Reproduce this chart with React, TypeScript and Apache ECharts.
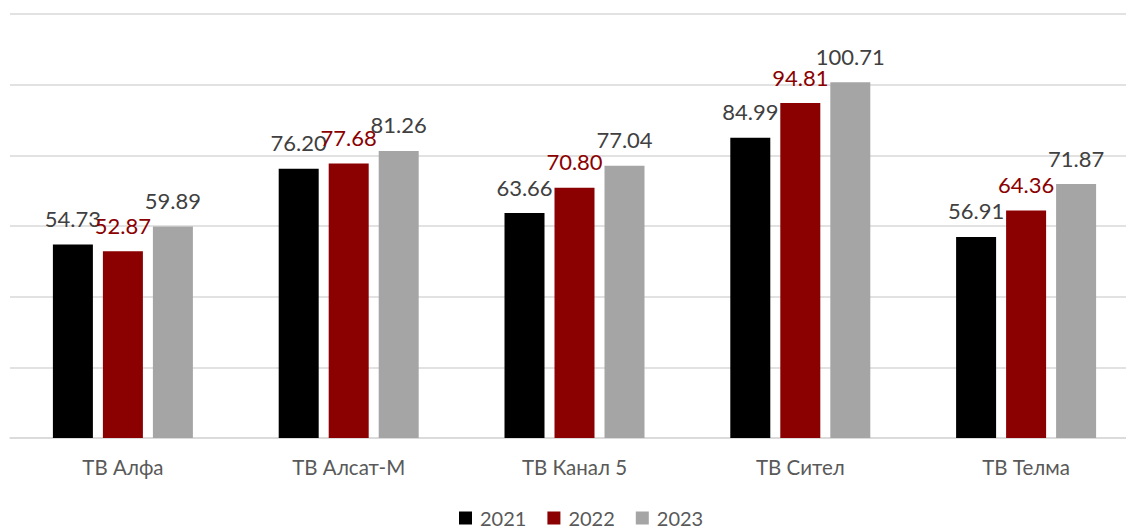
import React, { useEffect, useRef } from "react";
import * as echarts from "echarts";

const categories = ["ТВ Алфа", "ТВ Алсат-М", "ТВ Канал 5", "ТВ Сител", "ТВ Телма"];
const values2021 = [54.73, 76.2, 63.66, 84.99, 56.91];
const values2022 = [52.87, 77.68, 70.8, 94.81, 64.36];
const values2023 = [59.89, 81.26, 77.04, 100.71, 71.87];
const seriesNames = ["2021", "2022", "2023"];

const FONT = "Lato, 'Liberation Sans', sans-serif";

export default function App() {
  const ref = useRef<HTMLDivElement>(null);
  useEffect(() => {
    document.body.style.margin = "0";
    const chart = echarts.init(ref.current!, null, { renderer: "svg" });
    const mk = (name: string, data: number[], color: string, labelColor: string) => ({
      name,
      type: "bar",
      data,
      barWidth: 40,
      barGap: "25%",
      itemStyle: { color },
      label: {
        show: true,
        position: "top",
        distance: 15,
        color: labelColor,
        fontSize: 22,
        fontFamily: FONT,
        formatter: (p: any) => Number(p.value).toFixed(2),
      },
    });
    chart.setOption({
      animation: false,
      textStyle: { fontFamily: FONT },
      grid: {
        left: 10,
        width: 1129,
        top: 14,
        bottom: 93,
        containLabel: false,
        outerBoundsMode: "none",
      },
      legend: {
        bottom: 3,
        left: 459,
        padding: 0,
        itemWidth: 13,
        itemHeight: 13,
        itemGap: 21,
        icon: "rect",
        textStyle: { fontSize: 20, color: "#595959", fontFamily: FONT, padding: [0, 0, 0, 3] },
        data: seriesNames,
      },
      xAxis: {
        type: "category",
        data: categories,
        axisTick: { show: false },
        axisLine: { lineStyle: { color: "#D9D9D9", width: 1.5 } },
        axisLabel: { color: "#595959", fontSize: 20.5, margin: 18, fontFamily: FONT },
      },
      yAxis: {
        type: "value",
        min: 0,
        max: 120,
        interval: 20,
        axisLabel: { show: false },
        axisLine: { show: false },
        axisTick: { show: false },
        splitLine: { lineStyle: { color: "#D9D9D9", width: 1.5 } },
      },
      series: [
        mk(seriesNames[0], values2021, "#000000", "#404040"),
        mk(seriesNames[1], values2022, "#8B0000", "#8B0000"),
        mk(seriesNames[2], values2023, "#A5A5A5", "#404040"),
      ],
    });
    return () => chart.dispose();
  }, []);
  return <div ref={ref} style={{ width: 1126, height: 531 }} />;
}
